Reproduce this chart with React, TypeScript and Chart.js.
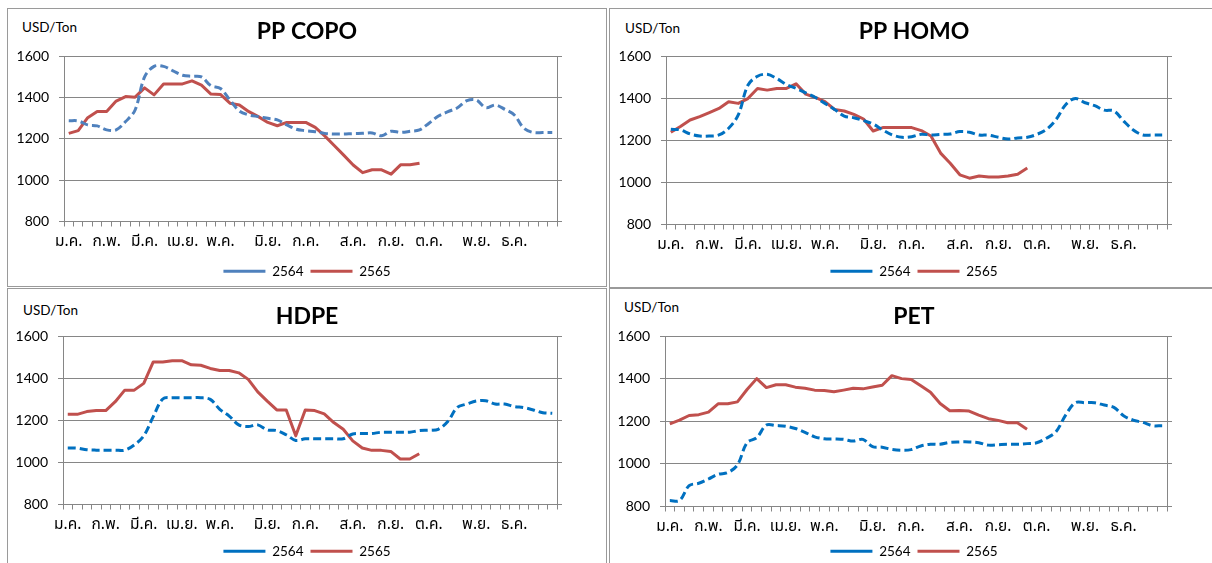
import React, { useEffect, useRef } from "react";
import { Chart, registerables } from "chart.js";

Chart.register(...registerables);

// ---------- data ----------
const weekLabels: string[] = [
  "ม.ค.", "", "", "", "ก.พ.", "", "", "", "มี.ค.", "", "", "", "เม.ย.", "", "", "", "พ.ค.", "", "", "", "",
  "มิ.ย.", "", "", "", "ก.ค.", "", "", "", "", "ส.ค.", "", "", "", "ก.ย.", "", "", "", "ต.ค.", "", "", "", "",
  "พ.ย.", "", "", "", "ธ.ค.", "", "", "", "",
];

const seriesNames = ["2564", "2565"];
const yTicks = { min: 800, max: 1600, step: 200 };

const ppCopo2564 = [1287, 1286, 1267, 1262, 1243, 1243, 1283, 1339, 1499, 1550, 1550, 1528, 1507, 1502, 1499, 1456, 1443, 1387, 1334, 1315, 1307, 1299, 1291, 1267, 1246, 1239, 1234, 1226, 1223, 1223, 1225, 1226, 1228, 1214, 1236, 1231, 1236, 1243, 1275, 1310, 1331, 1350, 1384, 1387, 1350, 1363, 1342, 1315, 1251, 1230, 1230, 1230];
const ppCopo2565 = [1226, 1239, 1302, 1332, 1332, 1382, 1404, 1401, 1446, 1412, 1465, 1465, 1465, 1480, 1459, 1416, 1414, 1372, 1363, 1331, 1307, 1279, 1263, 1279, 1279, 1279, 1255, 1214, 1167, 1121, 1073, 1036, 1050, 1050, 1029, 1074, 1074, 1082];

const ppHomo2564 = [1252, 1249, 1230, 1220, 1220, 1225, 1257, 1320, 1461, 1504, 1513, 1493, 1465, 1446, 1425, 1403, 1375, 1346, 1315, 1307, 1293, 1277, 1249, 1225, 1214, 1217, 1228, 1225, 1228, 1230, 1241, 1238, 1225, 1224, 1214, 1206, 1211, 1214, 1228, 1252, 1299, 1370, 1398, 1378, 1364, 1343, 1339, 1291, 1249, 1225, 1225, 1225];
const ppHomo2565 = [1238, 1265, 1296, 1312, 1331, 1351, 1383, 1375, 1398, 1446, 1438, 1446, 1446, 1468, 1419, 1403, 1383, 1346, 1339, 1323, 1301, 1244, 1260, 1260, 1260, 1260, 1246, 1220, 1139, 1091, 1036, 1020, 1030, 1025, 1025, 1030, 1039, 1068];

const hdpe2564 = [1068, 1068, 1060, 1058, 1058, 1058, 1058, 1083, 1126, 1217, 1301, 1307, 1307, 1307, 1307, 1299, 1252, 1220, 1178, 1170, 1178, 1154, 1151, 1131, 1104, 1112, 1112, 1112, 1112, 1112, 1135, 1137, 1137, 1143, 1143, 1143, 1143, 1151, 1153, 1157, 1194, 1261, 1277, 1291, 1293, 1277, 1277, 1265, 1260, 1249, 1236, 1233];
const hdpe2565 = [1228, 1228, 1241, 1246, 1246, 1288, 1343, 1343, 1375, 1477, 1477, 1483, 1483, 1463, 1461, 1446, 1436, 1436, 1425, 1394, 1335, 1291, 1249, 1249, 1126, 1249, 1246, 1230, 1189, 1157, 1102, 1068, 1057, 1057, 1052, 1016, 1016, 1041];

const pet2564 = [828, 828, 898, 909, 929, 951, 959, 995, 1099, 1123, 1182, 1180, 1177, 1166, 1148, 1127, 1118, 1117, 1115, 1107, 1115, 1081, 1078, 1068, 1064, 1067, 1084, 1092, 1092, 1101, 1103, 1103, 1099, 1088, 1090, 1092, 1092, 1095, 1099, 1120, 1151, 1229, 1287, 1287, 1287, 1276, 1265, 1226, 1205, 1195, 1179, 1179];
const pet2565 = [1188, 1205, 1227, 1231, 1243, 1282, 1282, 1291, 1349, 1400, 1358, 1371, 1371, 1360, 1355, 1346, 1344, 1338, 1346, 1355, 1352, 1361, 1369, 1414, 1400, 1396, 1366, 1336, 1283, 1249, 1251, 1248, 1229, 1212, 1204, 1193, 1193, 1163];

// ---------- styles ----------
const BLUE_LIGHT = "#4F81BD";
const BLUE = "#0070C0";
const RED = "#C0504D";
const GRID = "#868686";
const PANEL_BORDER = "#9a9a9a";
const LATO = "Lato, Carlito, 'Noto Sans', sans-serif";
const THAI = "Tahoma, 'Noto Sans Thai', Loma, Garuda, Norasi, 'Noto Sans', sans-serif";

type Cfg = {
  title: string;
  d1: number[];
  d2: number[];
  blue: string;
  box: { l: number; t: number; w: number; h: number };
  cv: { l: number; t: number; w: number; h: number };
  yW: number;
  y2W: number;
  xH: number;
  tPad: { top: number; bottom: number };
  unit: { x: number; y: number };
};

const panels: Cfg[] = [
  {
    title: "PP COPO", d1: ppCopo2564, d2: ppCopo2565, blue: BLUE_LIGHT,
    box: { l: 7, t: 8, w: 600, h: 279 }, cv: { l: 9, t: 9, w: 596, h: 279 },
    yW: 55, y2W: 48, xH: 36, tPad: { top: 9, bottom: 10.4 }, unit: { x: 22, y: 19 },
  },
  {
    title: "PP HOMO", d1: ppHomo2564, d2: ppHomo2565, blue: BLUE,
    box: { l: 609, t: 8, w: 620, h: 280 }, cv: { l: 610, t: 9, w: 608, h: 279 },
    yW: 56, y2W: 51, xH: 33, tPad: { top: 9, bottom: 10.4 }, unit: { x: 625, y: 20 },
  },
  {
    title: "HDPE", d1: hdpe2564, d2: hdpe2565, blue: BLUE,
    box: { l: 7, t: 288, w: 600, h: 300 }, cv: { l: 9, t: 289, w: 596, h: 279 },
    yW: 54, y2W: 48, xH: 33, tPad: { top: 13.5, bottom: 5.9 }, unit: { x: 23, y: 302 },
  },
  {
    title: "PET", d1: pet2564, d2: pet2565, blue: BLUE,
    box: { l: 609, t: 288, w: 620, h: 300 }, cv: { l: 610, t: 289, w: 608, h: 279 },
    yW: 55, y2W: 51, xH: 31, tPad: { top: 13.5, bottom: 5.9 }, unit: { x: 624, y: 299 },
  },
];

function Panel({ cfg }: { cfg: Cfg }) {
  const ref = useRef<HTMLCanvasElement>(null);
  useEffect(() => {
    const chart = new Chart(ref.current as HTMLCanvasElement, {
      type: "line",
      data: {
        labels: weekLabels,
        datasets: [
          {
            label: seriesNames[0],
            data: cfg.d1,
            borderColor: cfg.blue,
            backgroundColor: cfg.blue,
            borderWidth: 3,
            borderDash: [8, 4],
            pointRadius: 0,
            tension: 0.35,
            fill: false,
          },
          {
            label: seriesNames[1],
            data: cfg.d2,
            borderColor: RED,
            backgroundColor: RED,
            borderWidth: 3,
            borderJoinStyle: "round",
            pointRadius: 0,
            tension: 0,
            fill: false,
          },
        ],
      },
      options: {
        responsive: false,
        animation: false,
        events: [],
        layout: { padding: 0 },
        plugins: {
          title: {
            display: true,
            text: cfg.title,
            color: "#000",
            font: { family: LATO, size: 23, weight: "bold" },
            padding: cfg.tPad,
          },
          legend: {
            display: true,
            position: "bottom",
            labels: {
              usePointStyle: true,
              pointStyle: "line",
              pointStyleWidth: 42,
              padding: 7,
              color: "#000",
              font: { family: LATO, size: 13.5 },
            },
          },
          tooltip: { enabled: false },
        },
        scales: {
          x: {
            type: "category",
            offset: true,
            grid: { offset: true, drawOnChartArea: false, color: GRID, tickLength: 5 },
            border: { color: GRID },
            ticks: {
              autoSkip: false,
              maxRotation: 0,
              minRotation: 0,
              padding: 7,
              color: "#000",
              font: { family: THAI, size: 15.5 },
            },
            afterFit: (s: any) => { s.height = cfg.xH; },
          },
          y: {
            position: "left",
            min: yTicks.min,
            max: yTicks.max,
            ticks: {
              stepSize: yTicks.step,
              padding: 10,
              color: "#000",
              font: { family: LATO, size: 14 },
              callback: (v: any) => String(v),
            },
            grid: { color: GRID, tickLength: 5 },
            border: { color: GRID },
            afterFit: (s: any) => { s.width = cfg.yW; },
          },
          y2: {
            position: "right",
            min: yTicks.min,
            max: yTicks.max,
            ticks: { stepSize: yTicks.step, display: false },
            grid: { drawOnChartArea: false, color: GRID, tickLength: 5 },
            border: { color: GRID },
            afterFit: (s: any) => { s.width = cfg.y2W; },
          },
        },
      },
    } as any);
    return () => chart.destroy();
  }, []);
  const { box, cv, unit } = cfg;
  return (
    <>
      <div
        style={{
          position: "absolute", left: box.l, top: box.t, width: box.w, height: box.h,
          border: `1px solid ${PANEL_BORDER}`, boxSizing: "border-box",
        }}
      />
      <div
        style={{
          position: "absolute", left: unit.x, top: unit.y, fontFamily: LATO, fontSize: 13.5,
          lineHeight: "16px", color: "#000", whiteSpace: "nowrap",
        }}
      >
        USD/Ton
      </div>
      <canvas
        ref={ref}
        width={cv.w}
        height={cv.h}
        style={{ position: "absolute", left: cv.l, top: cv.t, width: cv.w, height: cv.h }}
      />
    </>
  );
}

export default function App() {
  return (
    <div style={{ position: "fixed", left: 0, top: 0, width: 1212, height: 563, overflow: "hidden", background: "#fff" }}>
      {panels.map((p) => (
        <Panel key={p.title} cfg={p} />
      ))}
    </div>
  );
}
